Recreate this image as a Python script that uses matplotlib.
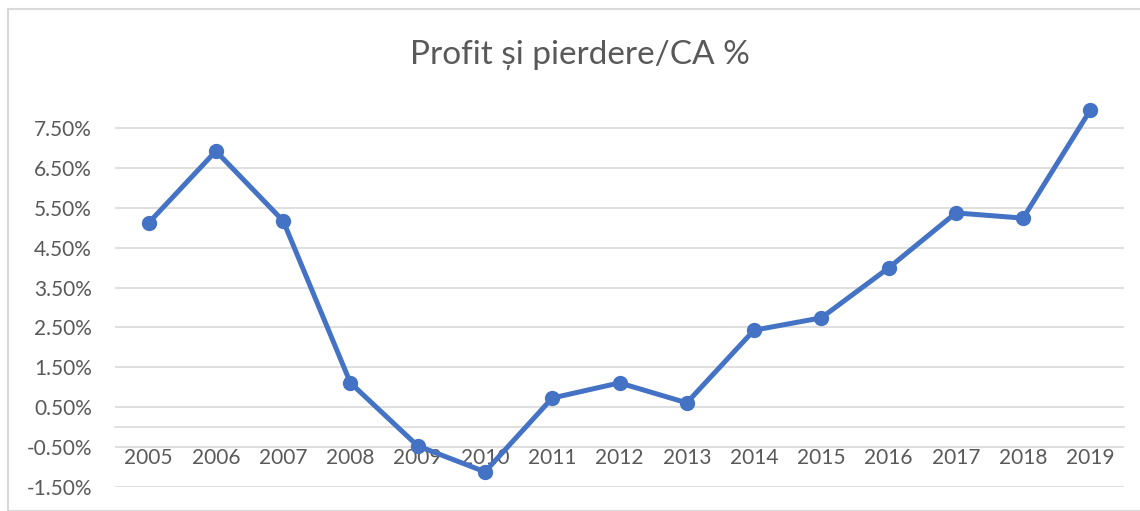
import matplotlib.pyplot as plt
from matplotlib.patches import Rectangle
import numpy as np

plt.rcParams['font.family'] = ['Lato', 'DejaVu Sans']

years = ['2005', '2006', '2007', '2008', '2009', '2010', '2011', '2012',
         '2013', '2014', '2015', '2016', '2017', '2018', '2019']
profit_pct = [5.12, 6.92, 5.17, 1.11, -0.47, -1.12, 0.73, 1.11,
              0.61, 2.43, 2.74, 3.99, 5.37, 5.24, 7.95]
yticks = [-1.5, -0.5, 0.5, 1.5, 2.5, 3.5, 4.5, 5.5, 6.5, 7.5]

text_col = '#595959'
grid_col = '#D9D9D9'
line_col = '#4472C4'

fig = plt.figure(figsize=(11.4, 5.11), dpi=100)
ax = fig.add_axes([115 / 1140, 1 - 487 / 511, (1124 - 115) / 1140, (487 - 108) / 511])

# light frame round the chart area
fig.patches.append(Rectangle((8 / 1140, 0), 1.2, 1 - 9 / 511, transform=fig.transFigure,
                             fill=False, edgecolor=grid_col, linewidth=1.5))

x = np.arange(len(years))
ax.plot(x, profit_pct, color=line_col, linewidth=3.6, marker='o', markersize=10,
        zorder=3, clip_on=False)

ax.set_xlim(-0.5, len(years) - 0.5)
ax.set_ylim(-1.5, 8.0)
ax.set_yticks(yticks)
ax.set_yticklabels([f'{v:.2f}%' for v in yticks])
ax.set_xticks(x)
ax.set_xticklabels(years)

ax.yaxis.grid(True, color=grid_col, linewidth=1.2)
ax.set_axisbelow(True)
for s in ['left', 'right', 'top']:
    ax.spines[s].set_visible(False)
ax.spines['bottom'].set_position(('data', 0))
ax.spines['bottom'].set_color(grid_col)
ax.spines['bottom'].set_linewidth(1.2)
ax.tick_params(axis='both', length=0, labelsize=15, labelcolor=text_col)
ax.tick_params(axis='y', pad=16.5)
ax.tick_params(axis='x', pad=15)

fig.text(580 / 1140, 1 - 55 / 511, 'Profit și pierdere/CA %', ha='center', va='center',
         fontsize=24, color=text_col)

fig.savefig('out.png', dpi=100)
